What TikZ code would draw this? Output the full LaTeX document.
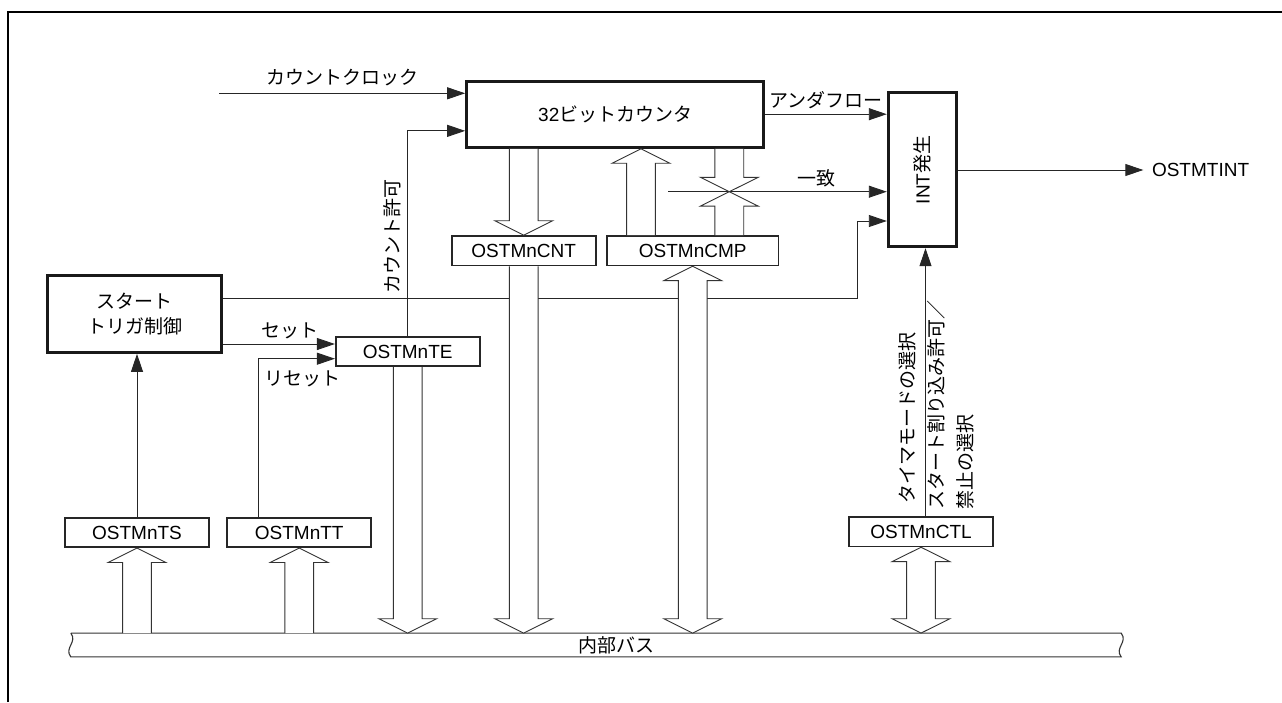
\documentclass[tikz,border=0pt]{standalone}
\usepackage{fontspec}
\setmainfont{Liberation Sans}
\newfontfamily\jp{Noto Sans CJK JP}
\usetikzlibrary{calc,arrows.meta}

% block arrow sizes: shaft half width, head half width, head length
\def\bsw{14.4pt}\def\bhw{28.9pt}\def\bhl{14.4pt}
\newcommand\bardn[2]{\draw[barrow] let \p1=#1, \p2=#2 in
  (\x1-\bsw,\y1) -- (\x1-\bsw,\y2+\bhl) -- (\x1-\bhw,\y2+\bhl) -- (\x1,\y2)
  -- (\x1+\bhw,\y2+\bhl) -- (\x1+\bsw,\y2+\bhl) -- (\x1+\bsw,\y1);}
\newcommand\barup[2]{\draw[barrow] let \p1=#1, \p2=#2 in
  (\x1-\bsw,\y1) -- (\x1-\bsw,\y2-\bhl) -- (\x1-\bhw,\y2-\bhl) -- (\x1,\y2)
  -- (\x1+\bhw,\y2-\bhl) -- (\x1+\bsw,\y2-\bhl) -- (\x1+\bsw,\y1);}
\newcommand\bardbl[2]{\draw[barrow] let \p1=#1, \p2=#2 in
  (\x1,\y1) -- (\x1+\bhw,\y1-\bhl) -- (\x1+\bsw,\y1-\bhl) -- (\x1+\bsw,\y2+\bhl)
  -- (\x1+\bhw,\y2+\bhl) -- (\x1,\y2) -- (\x1-\bhw,\y2+\bhl) -- (\x1-\bsw,\y2+\bhl)
  -- (\x1-\bsw,\y1-\bhl) -- (\x1-\bhw,\y1-\bhl) -- cycle;}

\begin{document}
\begin{tikzpicture}[x=1pt, y=-1pt, font=\fontsize{19}{23}\selectfont,
  reg/.style={draw=black!85, line width=1.6pt, minimum width=144pt, minimum height=29.5pt, inner sep=0pt, fill=white},
  blk/.style={draw=black!90, line width=3pt, fill=white, inner sep=0pt, align=center},
  arr/.style={-{Triangle[length=18pt, width=12pt]}, draw=black!85, line width=0.9pt},
  barrow/.style={draw=black!80, line width=0.9pt, fill=white},
  lab/.style={inner sep=0pt}, vlab/.style={rotate=90, inner sep=0pt}]
\useasboundingbox (0,0) rectangle (1282,702);
\draw[line width=2.5pt] (8,702) -- (8,12) -- (1282,12);

\node[blk, minimum width=297.3pt, minimum height=66.3pt] (ctr) at (615.3,114.2) {32\jp ビットカウンタ};
\node[blk, minimum width=68.4pt, minimum height=154pt, label={[rotate=90, inner sep=0pt]center:INT\jp 発生}] (int) at (922.5,169.7) {};
\node[blk, minimum width=174pt, minimum height=77.3pt, font=\fontsize{19}{25}\selectfont\jp] (strt) at (134.7,313.7) {スタート\\トリガ制御};
\node[reg] (te) at (407.7,351.5) {OSTMnTE};
\node[reg] (cnt) at (523.7,250.7) {OSTMnCNT};
\node[reg, minimum width=171.3pt] (cmp) at (692.7,250.7) {OSTMnCMP};
\node[reg] (ts) at (137,532.5) {OSTMnTS};
\node[reg] (tt) at (299.2,532.5) {OSTMnTT};
\node[reg] (ctl) at (921,531.7) {OSTMnCTL};
\node[anchor=west, inner xsep=8.5pt, inner ysep=2pt] (tint) at (1143.3,170) {OSTMTINT};
\node[minimum width=1050pt, minimum height=23.4pt, inner sep=0pt, label={[xshift=20pt, inner sep=0pt]center:{\jp 内部バス}}] (bus) at (596,645) {};
\draw[draw=black!80, line width=1.1pt] (bus.north west) -- (bus.north east)
  .. controls +(7,9) and +(-7,-9) .. (bus.south east) -- (bus.south west)
  .. controls +(-7,-9) and +(7,9) .. (bus.north west);

% signals
\coordinate (clk) at (219,93.3);
\coordinate (trg) at (857.3,298.3);
\coordinate (eqs) at (668,191.7);
\coordinate (eqx) at (729.3,191.7);
\coordinate (cmpu) at (641,200);
\draw[arr] (clk) -- (clk -| ctr.west) node[lab, midway, above=6.8pt] {\jp カウントクロック};
\draw[arr] (te.north) |- ([yshift=18pt]ctr.south west);
\node[vlab] at (392,236) {\jp カウント許可};
\draw[arr] (ctr.east) -- (ctr.east -| int.west) node[lab, midway, above=4.7pt] {\jp アンダフロー};
\draw[arr] (int.east |- tint.west) -- (tint.west);
\draw[arr] (eqs) -- (eqs -| int.west) node[lab, pos=0.68, above=4.2pt] {\jp 一致};
\draw[arr] (strt.east |- trg) -- (trg) |- ([yshift=-51.3pt]int.west);
\draw[arr] ([yshift=-30.3pt]strt.east) -- ([yshift=-30.3pt]strt.east -| te.west) node[lab, pos=0.6, above=4.5pt] {\jp セット};
\draw[arr] ([xshift=-41.2pt]tt.north) |- ([yshift=-7.2pt]te.west) node[lab, pos=0.79, below=11.8pt] {\jp リセット};
\draw[arr] (ts.north) -- (ts.north |- strt.south);
\draw[arr] ([xshift=4.5pt]ctl.north) -- ([xshift=4.5pt]ctl.north |- int.south);
\node[vlab] at (907.3,418) {\jp タイマモードの選択};
\node[vlab, align=left, font=\fontsize{19}{28.3}\selectfont] at (950.8,404.5) {\jp スタート割り込み許可／\\\jp 禁止の選択};

% bus transfers
\bardn{(ctr.south -| cnt.north)}{(cnt.north)}
\barup{(cmp.north -| cmpu)}{(ctr.south -| cmpu)}
\bardn{(ctr.south -| eqx)}{(eqx)}
\barup{(cmp.north -| eqx)}{(eqx)}
\bardn{(te.south)}{(te.south |- bus.north)}
\bardn{(cnt.south)}{(cnt.south |- bus.north)}
\bardbl{(cmp.south)}{(cmp.south |- bus.north)}
\bardbl{(ctl.south)}{(ctl.south |- bus.north)}
\barup{(ts.north |- bus.north)}{(ts.south)}
\barup{(tt.north |- bus.north)}{(tt.south)}
\end{tikzpicture}
\end{document}
